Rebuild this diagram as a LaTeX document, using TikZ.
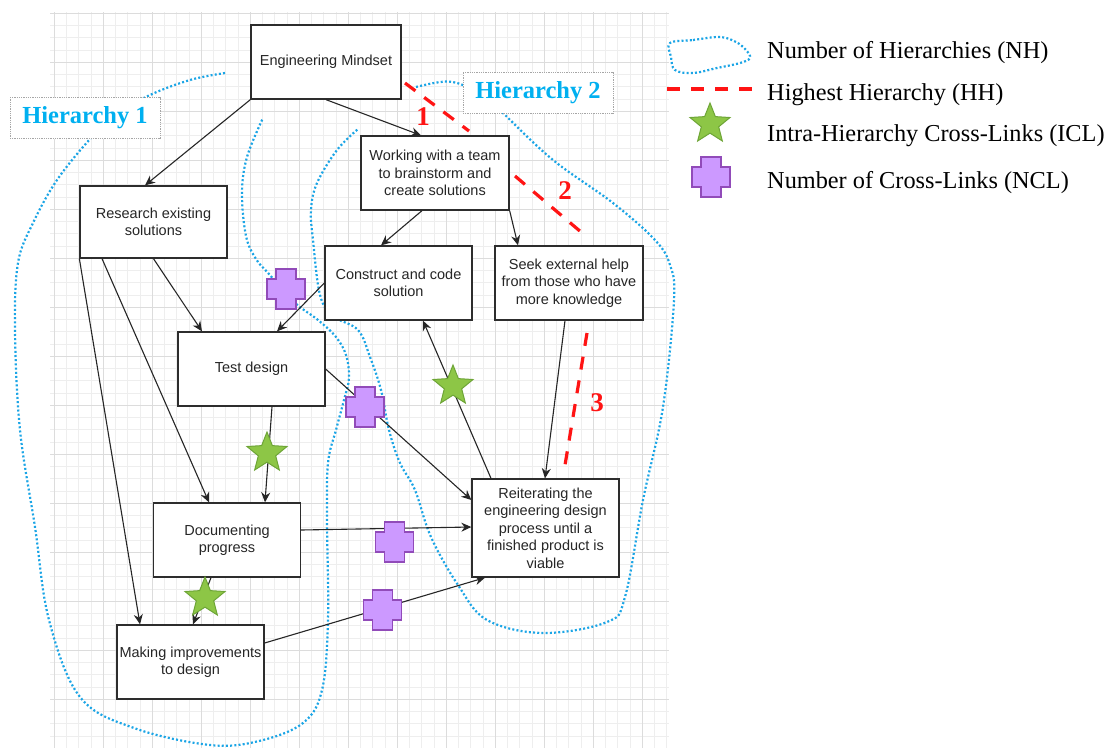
\documentclass[tikz,border=0pt]{standalone}
\usepackage{fontspec}
\setmainfont{Liberation Serif}
\newfontfamily\arialf{Liberation Sans}
\usetikzlibrary{shapes.geometric,arrows.meta,calc}
\definecolor{hblue}{RGB}{27,165,230}
\definecolor{hlabel}{RGB}{0,176,240}
\definecolor{hhred}{RGB}{255,20,20}
\definecolor{starfill}{RGB}{141,198,70}
\definecolor{starline}{RGB}{110,165,55}
\definecolor{crossfill}{RGB}{204,153,255}
\definecolor{crossline}{RGB}{145,75,185}
\definecolor{boxline}{RGB}{45,45,45}
\definecolor{gridminor}{RGB}{238,238,238}
\definecolor{gridmajor}{RGB}{220,220,220}
\begin{document}
\begin{tikzpicture}[x=1pt,y=-1pt,
  box/.style={draw=boxline, line width=1.3pt, fill=white, inner sep=1pt, align=center,
    font=\arialf\fontsize{14.5}{17.5}\selectfont, text=black!85},
  conn/.style={draw=black!85, line width=1.1pt, -{Stealth[length=10pt,width=9pt]}},
  nh/.style={draw=hblue, line width=2.2pt, dash pattern=on 2pt off 2.2pt},
  hh/.style={draw=hhred, line width=3.2pt, dash pattern=on 13pt off 11pt},
  hlabelbox/.style={draw=gray!70, densely dotted, line width=0.8pt, fill=white,
    minimum width=150pt, minimum height=41pt, inner sep=0,
    font=\bfseries\fontsize{24.5}{28}\selectfont, text=hlabel},
  hhnum/.style={text=hhred, font=\bfseries\fontsize{27}{30}\selectfont, inner sep=0},
  icl/.style={star, star points=5, star point ratio=2.3, minimum size=42pt, inner sep=0,
    fill=starfill, draw=starline, line width=1pt},
  legtext/.style={anchor=base west, font=\fontsize{24.3}{28}\selectfont, inner sep=0},
  ncl/.pic={\filldraw[fill=crossfill, draw=crossline, line width=1.3pt]
    (-10,-20) -- (10,-20) -- (10,-10) -- (19,-10) -- (19,10) -- (10,10) -- (10,20)
    -- (-10,20) -- (-10,10) -- (-19,10) -- (-19,-10) -- (-10,-10) -- cycle;},
]
\useasboundingbox (0,0) rectangle (1109,748);
\fill[white] (0,0) rectangle (1109,748);
% grid
\foreach \i in {0,...,50} \draw[gridminor, line width=0.8pt] ({54.3+\i*12.25},12) -- ({54.3+\i*12.25},748);
\foreach \j in {0,...,59} \draw[gridminor, line width=0.8pt] (50,{13.3+\j*12.25}) -- (669,{13.3+\j*12.25});
\foreach \i in {0,...,12} \draw[gridmajor, line width=1pt] ({54.3+\i*49},12) -- ({54.3+\i*49},748);
\foreach \j in {0,...,14} \draw[gridmajor, line width=1pt] (50,{13.3+\j*49}) -- (669,{13.3+\j*49});

% hierarchy outlines
\draw[nh] plot[smooth, tension=0.6] coordinates {(225,73) (190,80) (150,95) (115,115) (90,139) (57,180) (33,223) (18,263) (15,330) (20,430) (35,527) (49,620) (80,697) (134,728) (210,745) (259,741) (303,723) (322,690) (328,620) (327,520) (328,463) (336,430) (344,400) (349,378) (346,355) (336,337) (318,320) (294,302) (269,274) (256,259) (246,236) (242,193) (247,157) (263,118)};
\draw[nh] plot[smooth, tension=0.6] coordinates {(416,87) (447,81.5) (470,88) (490,100) (503,113) (553,160) (613,203) (655,240) (670,265) (674,300) (663,407) (643,500) (625,597) (607,622) (543,633) (487,620) (458,585) (431,537) (415,490) (400,463) (389,430) (381,390) (370,357) (358,330) (333,316) (320,295) (313,240) (311,210) (317,183) (337,150) (358,129)};

\node[hlabelbox] (h1) at (85,118) {Hierarchy 1};
\node[hlabelbox] (h2) at (538,92.5) {Hierarchy 2};

% nodes
\node[box, minimum width=150pt, minimum height=74pt] (em) at (326,62) {Engineering Mindset};
\node[box, minimum width=148pt, minimum height=74pt] (work) at (435,173) {Working with a team\\to brainstorm and\\create solutions};
\node[box, minimum width=147pt, minimum height=72pt] (res) at (153.5,222) {Research existing\\solutions};
\node[box, minimum width=147pt, minimum height=74pt] (cons) at (398.5,283) {Construct and code\\solution};
\node[box, minimum width=148pt, minimum height=74pt] (seek) at (569,283) {Seek external help\\from those who have\\more knowledge};
\node[box, minimum width=147pt, minimum height=74pt] (test) at (251.5,369) {Test design};
\node[box, minimum width=147pt, minimum height=74pt] (doc) at (227,540) {Documenting\\progress};
\node[box, minimum width=147pt, minimum height=98pt] (reit) at (545.5,528) {Reiterating the\\engineering design\\process until a\\finished product is\\viable};
\node[box, minimum width=147pt, minimum height=74pt] (make) at (190.5,662) {Making improvements\\to design};

% connectors
\draw[conn] (em.south west) -- ([xshift=-8.5pt]res.north);
\draw[conn] (em.south) -- ([xshift=-14pt]work.north);
\draw[conn] ([xshift=-13pt]work.south) -- ([xshift=-17.5pt]cons.north);
\draw[conn] (work.south east) -- ([xshift=-51pt]seek.north);
\draw[conn] (res.south) -- ([xshift=-49.5pt]test.north);
\draw[conn] (cons.west) -- ([xshift=25.5pt]test.north);
\draw[conn] ([xshift=-51.5pt]res.south) -- ([xshift=-18pt]doc.north);
\draw[conn] (res.south west) -- ([xshift=-50.5pt]make.north);
\draw[conn] ([xshift=20.5pt]test.south) -- ([xshift=38pt]doc.north);
\draw[conn] ([xshift=-16pt]doc.south) -- ([xshift=2.5pt]make.north);
\draw[conn] (test.east) -- ([yshift=28pt]reit.west);
\draw[conn] ([xshift=-54.5pt]reit.north) -- ([xshift=24.5pt]cons.south);
\draw[conn] ([xshift=-4pt]seek.south) -- ([xshift=-0.5pt]reit.north);
\draw[conn] ([yshift=10pt]doc.east) -- ([yshift=1pt]reit.west);
\draw[conn] ([yshift=19pt]make.east) -- ([xshift=-60.5pt]reit.south);

% highest hierarchy
\draw[hh] (405,83) -- (469,131);
\draw[hh] (515,176) -- (581,232);
\draw[hh] (587,333) -- (565,465);
\node[hhnum] (n1) at (423,117) {1};
\node[hhnum] (n2) at (565,191) {2};
\node[hhnum] (n3) at (597,403) {3};

% cross-link markers
\node[icl] (s1) at (453,386) {};
\node[icl] (s2) at (267,453) {};
\node[icl] (s3) at (205,598) {};
\pic at (286,289) {ncl};
\pic at (365,407) {ncl};
\pic at (394.5,542) {ncl};
\pic at (382.5,610) {ncl};

% legend
\draw[nh] plot[smooth cycle, tension=0.6] coordinates {(670,43) (693,40) (720,37) (736,42) (746,50) (750,58) (740,63) (717,68) (693,73) (675,70) (671,57)};
\draw[hh] (667,89) -- (752,89);
\node[icl] (ls) at (710,124) {};
\pic at (711,177) {ncl};
\node[legtext] (l1) at (767,58) {Number of Hierarchies (NH)};
\node[legtext] (l2) at (767,100) {Highest Hierarchy (HH)};
\node[legtext] (l3) at (767,141.5) {Intra-Hierarchy Cross-Links (ICL)};
\node[legtext] (l4) at (767,188) {Number of Cross-Links (NCL)};
\end{tikzpicture}
\end{document}
